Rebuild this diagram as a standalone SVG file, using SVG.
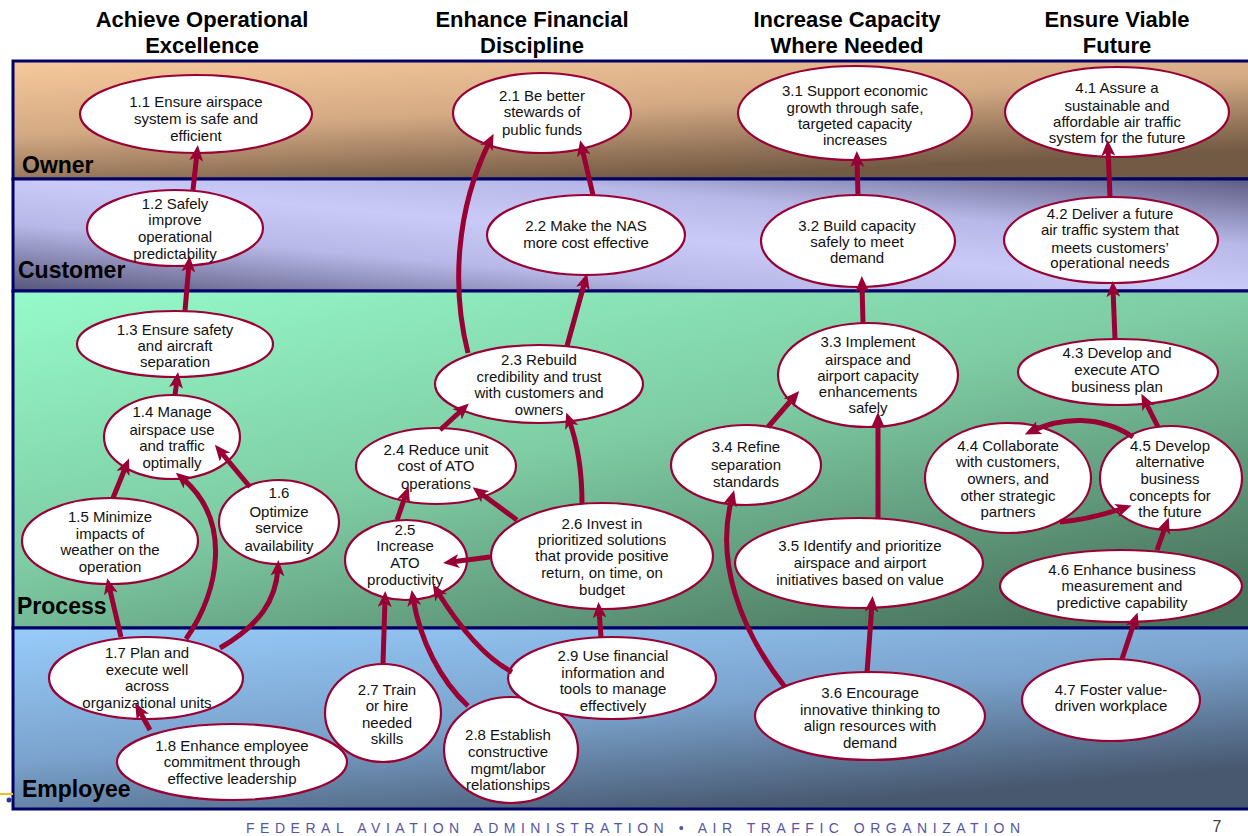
<svg xmlns="http://www.w3.org/2000/svg" width="1248" height="836" viewBox="0 0 1248 836">
<defs>
<linearGradient id="gOwner" x1="0" y1="0" x2="0.5" y2="1"><stop offset="0" stop-color="#F7C99B"/><stop offset="0.5" stop-color="#D4AA84"/><stop offset="0.85" stop-color="#8E7056"/><stop offset="1" stop-color="#735A44"/></linearGradient>
<linearGradient id="gCust" x1="0" y1="1" x2="1" y2="0"><stop offset="0" stop-color="#55557A"/><stop offset="0.3" stop-color="#B8B8E8"/><stop offset="0.5" stop-color="#CACAF8"/><stop offset="0.7" stop-color="#B8B8E8"/><stop offset="1" stop-color="#5A5A80"/></linearGradient>
<linearGradient id="gProc" x1="0" y1="0" x2="0.8" y2="1"><stop offset="0" stop-color="#96FACA"/><stop offset="0.5" stop-color="#7ECCA4"/><stop offset="1" stop-color="#4A745E"/></linearGradient>
<linearGradient id="gEmp" x1="0" y1="0" x2="0.6" y2="1"><stop offset="0" stop-color="#98CCFA"/><stop offset="0.55" stop-color="#7AA2CC"/><stop offset="1" stop-color="#48586F"/></linearGradient>
<marker id="ah" markerUnits="userSpaceOnUse" markerWidth="16" markerHeight="14" viewBox="0 0 16 14" refX="8" refY="7" orient="auto"><path d="M0,0 L16,7 L0,14 L4,7 z" fill="#990033"/></marker>
<style>
.band{stroke:#000066;stroke-width:3}
.hdr{font-family:"Liberation Sans",Arial,sans-serif;font-weight:bold;font-size:22px;fill:#000;text-anchor:middle}
.lbl{font-family:"Liberation Sans",Arial,sans-serif;font-weight:bold;font-size:23px;fill:#000}
.node ellipse{fill:#fff;stroke:#990033;stroke-width:2.2}
.node text{font-family:"Liberation Sans",Arial,sans-serif;font-size:15px;fill:#111;text-anchor:middle}
.conn path{fill:none;stroke:#990033;stroke-width:5;marker-end:url(#ah)}
.foot{font-family:"Liberation Sans",Arial,sans-serif;font-size:14px;fill:#5555A5}
</style>
</defs>
<rect width="1248" height="836" fill="#fff"/>
<g id="headers">
<text class="hdr" x="202" y="27">Achieve Operational</text><text class="hdr" x="202" y="53">Excellence</text>
<text class="hdr" x="532" y="27">Enhance Financial</text><text class="hdr" x="532" y="53">Discipline</text>
<text class="hdr" x="847" y="27">Increase Capacity</text><text class="hdr" x="847" y="53">Where Needed</text>
<text class="hdr" x="1117" y="27">Ensure Viable</text><text class="hdr" x="1117" y="53">Future</text>
</g>
<g id="bands">
<rect class="band" x="13" y="61" width="1250" height="118" fill="url(#gOwner)"/>
<rect class="band" x="13" y="179" width="1250" height="112" fill="url(#gCust)"/>
<rect class="band" x="13" y="291" width="1250" height="337" fill="url(#gProc)"/>
<rect class="band" x="13" y="628" width="1250" height="181" fill="url(#gEmp)"/>
<text class="lbl" x="22" y="173">Owner</text>
<text class="lbl" x="18" y="278">Customer</text>
<text class="lbl" x="17" y="614">Process</text>
<text class="lbl" x="22" y="797">Employee</text>
</g>
<g id="n1_1" class="node"><ellipse cx="196" cy="114" rx="116" ry="39"/><text><tspan x="196" y="107">1.1 Ensure airspace</tspan><tspan x="196" y="124">system is safe and</tspan><tspan x="196" y="141">efficient</tspan></text></g>
<g id="n1_2" class="node"><ellipse cx="175" cy="228" rx="88" ry="38"/><text><tspan x="175" y="209">1.2 Safely</tspan><tspan x="175" y="225">improve</tspan><tspan x="175" y="242">operational</tspan><tspan x="175" y="259">predictability</tspan></text></g>
<g id="n1_3" class="node"><ellipse cx="175" cy="344" rx="98" ry="33"/><text><tspan x="175" y="335">1.3 Ensure safety</tspan><tspan x="175" y="351">and aircraft</tspan><tspan x="175" y="367">separation</tspan></text></g>
<g id="n1_4" class="node"><ellipse cx="172" cy="437" rx="68" ry="42"/><text><tspan x="172" y="417">1.4 Manage</tspan><tspan x="172" y="435">airspace use</tspan><tspan x="172" y="451">and traffic</tspan><tspan x="172" y="468">optimally</tspan></text></g>
<g id="n1_5" class="node"><ellipse cx="110" cy="541" rx="88" ry="43"/><text><tspan x="110" y="522">1.5 Minimize</tspan><tspan x="110" y="539">impacts of</tspan><tspan x="110" y="555">weather on the</tspan><tspan x="110" y="572">operation</tspan></text></g>
<g id="n1_6" class="node"><ellipse cx="279" cy="522" rx="60" ry="42"/><text><tspan x="279" y="498">1.6</tspan><tspan x="279" y="517">Optimize</tspan><tspan x="279" y="533">service</tspan><tspan x="279" y="551">availability</tspan></text></g>
<g id="n1_7" class="node"><ellipse cx="146" cy="678" rx="97" ry="41"/><text><tspan x="147" y="658">1.7 Plan and</tspan><tspan x="147" y="675">execute well</tspan><tspan x="147" y="691">across</tspan><tspan x="147" y="708">organizational units</tspan></text></g>
<g id="n1_8" class="node"><ellipse cx="232" cy="762" rx="115" ry="38"/><text><tspan x="232" y="751">1.8 Enhance employee</tspan><tspan x="232" y="767">commitment through</tspan><tspan x="232" y="784">effective leadership</tspan></text></g>
<g id="n2_1" class="node"><ellipse cx="542" cy="113" rx="89" ry="40"/><text><tspan x="542" y="101">2.1 Be better</tspan><tspan x="542" y="117">stewards of</tspan><tspan x="542" y="135">public funds</tspan></text></g>
<g id="n2_2" class="node"><ellipse cx="586" cy="235" rx="99" ry="40"/><text><tspan x="586" y="231">2.2 Make the NAS</tspan><tspan x="586" y="248">more cost effective</tspan></text></g>
<g id="n2_3" class="node"><ellipse cx="539" cy="384" rx="104" ry="39"/><text><tspan x="539" y="365">2.3 Rebuild</tspan><tspan x="539" y="382">credibility and trust</tspan><tspan x="539" y="398">with customers and</tspan><tspan x="539" y="415">owners</tspan></text></g>
<g id="n2_4" class="node"><ellipse cx="436" cy="466" rx="80" ry="38"/><text><tspan x="436" y="455">2.4 Reduce unit</tspan><tspan x="436" y="471">cost of ATO</tspan><tspan x="436" y="489">operations</tspan></text></g>
<g id="n2_5" class="node"><ellipse cx="406" cy="560" rx="61" ry="40"/><text><tspan x="405" y="535">2.5</tspan><tspan x="405" y="551">Increase</tspan><tspan x="405" y="568">ATO</tspan><tspan x="405" y="585">productivity</tspan></text></g>
<g id="n2_6" class="node"><ellipse cx="602" cy="556" rx="111" ry="53"/><text><tspan x="602" y="529">2.6 Invest in</tspan><tspan x="602" y="545">prioritized solutions</tspan><tspan x="602" y="561">that provide positive</tspan><tspan x="602" y="578">return, on time, on</tspan><tspan x="602" y="595">budget</tspan></text></g>
<g id="n2_7" class="node"><ellipse cx="383" cy="713" rx="58" ry="49"/><text><tspan x="387" y="695">2.7 Train</tspan><tspan x="387" y="711">or hire</tspan><tspan x="387" y="728">needed</tspan><tspan x="387" y="744">skills</tspan></text></g>
<g id="n2_8" class="node"><ellipse cx="511" cy="750" rx="67" ry="53"/><text><tspan x="508" y="740">2.8 Establish</tspan><tspan x="508" y="757">constructive</tspan><tspan x="508" y="774">mgmt/labor</tspan><tspan x="508" y="790">relationships</tspan></text></g>
<g id="n2_9" class="node"><ellipse cx="612" cy="678" rx="104" ry="41"/><text><tspan x="613" y="661">2.9 Use financial</tspan><tspan x="613" y="678">information and</tspan><tspan x="613" y="694">tools to manage</tspan><tspan x="613" y="711">effectively</tspan></text></g>
<g id="n3_1" class="node"><ellipse cx="855" cy="113" rx="117" ry="47"/><text><tspan x="855" y="96">3.1 Support economic</tspan><tspan x="855" y="113">growth through safe,</tspan><tspan x="855" y="129">targeted capacity</tspan><tspan x="855" y="145">increases</tspan></text></g>
<g id="n3_2" class="node"><ellipse cx="858" cy="241" rx="97" ry="46"/><text><tspan x="857" y="231">3.2 Build capacity</tspan><tspan x="857" y="247">safely to meet</tspan><tspan x="857" y="263">demand</tspan></text></g>
<g id="n3_3" class="node"><ellipse cx="868" cy="375" rx="90" ry="52"/><text><tspan x="868" y="347">3.3 Implement</tspan><tspan x="868" y="365">airspace and</tspan><tspan x="868" y="381">airport capacity</tspan><tspan x="868" y="397">enhancements</tspan><tspan x="868" y="413">safely</tspan></text></g>
<g id="n3_4" class="node"><ellipse cx="746" cy="465" rx="75" ry="40"/><text><tspan x="746" y="452">3.4 Refine</tspan><tspan x="746" y="470">separation</tspan><tspan x="746" y="487">standards</tspan></text></g>
<g id="n3_5" class="node"><ellipse cx="859" cy="563" rx="124" ry="45"/><text><tspan x="860" y="551">3.5 Identify and prioritize</tspan><tspan x="860" y="568">airspace and airport</tspan><tspan x="860" y="585">initiatives based on value</tspan></text></g>
<g id="n3_6" class="node"><ellipse cx="870" cy="716" rx="115" ry="44"/><text><tspan x="870" y="698">3.6  Encourage</tspan><tspan x="870" y="715">innovative thinking to</tspan><tspan x="870" y="731">align resources with</tspan><tspan x="870" y="748">demand</tspan></text></g>
<g id="n4_1" class="node"><ellipse cx="1117" cy="112" rx="112" ry="45"/><text><tspan x="1117" y="93">4.1 Assure a</tspan><tspan x="1117" y="111">sustainable and</tspan><tspan x="1117" y="127">affordable air traffic</tspan><tspan x="1117" y="143">system for the future</tspan></text></g>
<g id="n4_2" class="node"><ellipse cx="1111" cy="240" rx="107" ry="43"/><text><tspan x="1110" y="219">4.2 Deliver a future</tspan><tspan x="1110" y="235">air traffic system that</tspan><tspan x="1110" y="253">meets customers’</tspan><tspan x="1110" y="268">operational needs</tspan></text></g>
<g id="n4_3" class="node"><ellipse cx="1118" cy="372" rx="100" ry="33"/><text><tspan x="1117" y="358">4.3 Develop and</tspan><tspan x="1117" y="375">execute ATO</tspan><tspan x="1117" y="392">business plan</tspan></text></g>
<g id="n4_4" class="node"><ellipse cx="1008" cy="478" rx="83" ry="55"/><text><tspan x="1008" y="451">4.4 Collaborate</tspan><tspan x="1008" y="467">with customers,</tspan><tspan x="1008" y="484">owners, and</tspan><tspan x="1008" y="501">other strategic</tspan><tspan x="1008" y="517">partners</tspan></text></g>
<g id="n4_5" class="node"><ellipse cx="1171" cy="478" rx="71" ry="52"/><text><tspan x="1170" y="451">4.5 Develop</tspan><tspan x="1170" y="467">alternative</tspan><tspan x="1170" y="484">business</tspan><tspan x="1170" y="501">concepts for</tspan><tspan x="1170" y="517">the future</tspan></text></g>
<g id="n4_6" class="node"><ellipse cx="1121" cy="586" rx="121" ry="36"/><text><tspan x="1122" y="575">4.6 Enhance business</tspan><tspan x="1122" y="591">measurement and</tspan><tspan x="1122" y="608">predictive capability</tspan></text></g>
<g id="n4_7" class="node"><ellipse cx="1111" cy="700" rx="89" ry="41"/><text><tspan x="1111" y="695">4.7 Foster value-</tspan><tspan x="1111" y="711">driven workplace</tspan></text></g>
<g id="connectors" class="conn">
<path d="M193,190 L197,153"/>
<path d="M185,311 L189,264"/>
<path d="M175,395 L177,380"/>
<path d="M113,498 L126,466"/>
<path d="M250,487 L220,451"/>
<path d="M186,639 C220,590 232,520 182,478"/>
<path d="M121,637 L109,586"/>
<path d="M220,648 C260,625 276,600 278,568"/>
<path d="M150,730 L139,710"/>
<path d="M593,195 L582,148"/>
<path d="M468,353 C452,290 455,210 490,141"/>
<path d="M567,346 L585,281"/>
<path d="M440,430 L463,409"/>
<path d="M397,520 L406,494"/>
<path d="M517,520 L479,492"/>
<path d="M490,557 L451,562"/>
<path d="M582,503 C582,470 577,442 569,420"/>
<path d="M383,664 L385,599"/>
<path d="M468,706 C440,680 420,640 413,598"/>
<path d="M512,672 C480,655 455,620 437,591"/>
<path d="M601,637 L599,610"/>
<path d="M858,196 L857,159"/>
<path d="M863,323 L862,284"/>
<path d="M768,427 L794,397"/>
<path d="M878,518 L878,420"/>
<path d="M867,673 L872,604"/>
<path d="M785,687 C740,630 715,560 732,498"/>
<path d="M1110,197 L1108,148"/>
<path d="M1115,339 L1113,289"/>
<path d="M1158,427 L1145,401"/>
<path d="M1133,437 C1100,415 1062,417 1032,431"/>
<path d="M1060,522 C1085,520 1103,515 1124,508"/>
<path d="M1157,550 L1166,525"/>
<path d="M1122,659 L1135,620"/>
</g>
<g id="footer">
<line x1="0" y1="794" x2="13" y2="794" stroke="#E8C020" stroke-width="2"/>
<circle cx="9" cy="800" r="2.5" fill="#2A3A8A"/>
<text class="foot" x="246" y="833" textLength="774" lengthAdjust="spacing">FEDERAL AVIATION ADMINISTRATION • AIR TRAFFIC ORGANIZATION</text>
<text x="1217" y="832" font-family="Liberation Sans, Arial, sans-serif" font-size="16" fill="#404040" text-anchor="middle">7</text>
</g>
</svg>
